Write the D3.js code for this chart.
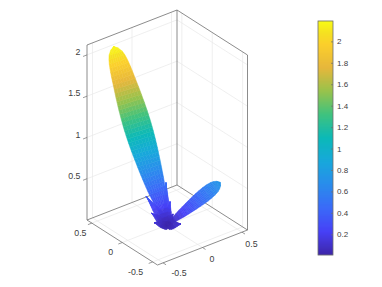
<!DOCTYPE html>
<html>
<head>
<meta charset="utf-8">
<script src="https://cdn.jsdelivr.net/npm/d3@7"></script>
<style>
  html, body { margin: 0; padding: 0; background: #fff; }
  text { font-family: "Liberation Sans", Arial, sans-serif; fill: #404040; }
</style>
</head>
<body>
<svg id="chart" width="382" height="287"></svg>
<script>
// Tick labels
const xTicks = [-0.5, 0, 0.5];
const yTicks = [0.5, 0, -0.5];
const zTicks = [0.5, 1, 1.5, 2];
const colorTicks = [0.2, 0.4, 0.6, 0.8, 1, 1.2, 1.4, 1.6, 1.8, 2];

// Parula colormap stops
const parulaStops = [0, 0.1, 0.2, 0.3, 0.4, 0.5, 0.6, 0.7, 0.8, 0.9, 0.95, 1];
const parulaColors = ['#3e26a8', '#4741f6', '#3b6af8', '#2a8cec', '#18a8db', '#0cb9b8',
  '#3fc27f', '#98c24c', '#e6b73c', '#fbcf2c', '#f5e121', '#f9fb15'];

// Main lobe: radius along the beam and half width
const mainTip = [-0.37, 0.40, 2.11];
const mainR = [0, 0.05, 0.1, 0.15, 0.2, 0.25, 0.3, 0.35, 0.4, 0.45, 0.5, 0.55, 0.6, 0.65, 0.7, 0.75,
  0.8, 0.85, 0.9, 0.95, 1, 1.05, 1.1, 1.15, 1.2, 1.25, 1.3, 1.35, 1.4, 1.45, 1.5, 1.55,
  1.6, 1.65, 1.7, 1.75, 1.8, 1.85, 1.9, 1.95, 2, 2.05, 2.1, 2.15, 2.18];
const mainWidth = [0, 0.015, 0.03, 0.047, 0.058, 0.068, 0.078, 0.088, 0.097, 0.105, 0.111, 0.117, 0.122, 0.127, 0.132, 0.136,
  0.14, 0.144, 0.148, 0.151, 0.154, 0.156, 0.158, 0.159, 0.16, 0.16, 0.159, 0.158, 0.156, 0.154, 0.151, 0.148,
  0.145, 0.141, 0.137, 0.133, 0.129, 0.125, 0.12, 0.114, 0.107, 0.096, 0.08, 0.045, 0];

// Second lobe
const sideTip = [0.431, -0.309, 0.5];
const sideR = [0, 0.05, 0.1, 0.15, 0.2, 0.25, 0.3, 0.35, 0.4, 0.45, 0.5, 0.55, 0.6, 0.65, 0.68, 0.71, 0.729];
const sideWidth = [0, 0.015, 0.03, 0.04, 0.05, 0.056, 0.062, 0.068, 0.073, 0.077, 0.08, 0.08, 0.077, 0.068, 0.056, 0.035, 0];

// Small spikes around the origin
const spikeX = [-0.115, -0.1, -0.096, 0.003, 0.024, 0.049, 0.12, -0.067, 0.03];
const spikeY = [0.2, 0.126, 0.093, 0.025, -0.014, -0.031, -0.07, 0.028, -0.076];
const spikeZ = [0.3, 0.12, 0.02, 0.5, 0.28, 0.13, 0, 0, 0];
const spikeWidth = [0.05, 0.055, 0.05, 0.035, 0.04, 0.05, 0.055, 0.05, 0.04];
const spikeShape = [0.5, 1, 1, 0.9, 0.7, 0.45, 0.2, 0];

const xLim = [-0.57, 0.57];
const yLim = [-0.58, 0.58];
const zLim = [0, 2.12];
const colorLim = [0.007, 2.19];

const svg = d3.select('#chart');

// axes box corners on screen
const front = [157.5, 265];
const right = [247.5, 230];
const left = [87, 220];
const boxHeight = 175;

const xScale = d3.scaleLinear().domain(xLim).range([0, right[0] - front[0]]);
const xScaleV = d3.scaleLinear().domain(xLim).range([0, right[1] - front[1]]);
const yScale = d3.scaleLinear().domain(yLim).range([0, left[0] - front[0]]);
const yScaleV = d3.scaleLinear().domain(yLim).range([0, left[1] - front[1]]);
const zScale = d3.scaleLinear().domain(zLim).range([0, -boxHeight]);

function project(x, y, z) {
  return [
    front[0] + xScale(x) + yScale(y),
    front[1] + xScaleV(x) + yScaleV(y) + zScale(z)
  ];
}

const parula = d3.scaleLinear().domain(parulaStops).range(parulaColors).clamp(true);
const colorNorm = d3.scaleLinear().domain(colorLim).range([0, 1]).clamp(true);
const colorOf = v => parula(colorNorm(v));

const line3d = (g, a, b, color, width) => {
  const p = project(...a), q = project(...b);
  g.append('line')
    .attr('x1', p[0]).attr('y1', p[1])
    .attr('x2', q[0]).attr('y2', q[1])
    .attr('stroke', color)
    .attr('stroke-width', width);
};

function drawGrid() {
  const g = svg.append('g').attr('class', 'grid');
  const c = '#e8e8e8';
  xTicks.forEach(x => {
    line3d(g, [x, yLim[0], 0], [x, yLim[1], 0], c, 0.7);
    line3d(g, [x, yLim[1], 0], [x, yLim[1], zLim[1]], c, 0.7);
  });
  yTicks.forEach(y => {
    line3d(g, [xLim[0], y, 0], [xLim[1], y, 0], c, 0.7);
    line3d(g, [xLim[1], y, 0], [xLim[1], y, zLim[1]], c, 0.7);
  });
  zTicks.forEach(z => {
    line3d(g, [xLim[0], yLim[1], z], [xLim[1], yLim[1], z], c, 0.7);
    line3d(g, [xLim[1], yLim[1], z], [xLim[1], yLim[0], z], c, 0.7);
  });
}

function drawBox() {
  const g = svg.append('g').attr('class', 'box');
  const c = '#6e6e6e';
  const [x0, x1] = xLim, [y0, y1] = yLim, [z0, z1] = zLim;
  line3d(g, [x0, y1, z0], [x1, y1, z0], c, 0.8);
  line3d(g, [x1, y1, z0], [x1, y0, z0], c, 0.8);
  line3d(g, [x0, y1, z0], [x0, y0, z0], c, 0.8);
  line3d(g, [x0, y0, z0], [x1, y0, z0], c, 0.8);
  line3d(g, [x0, y1, z1], [x1, y1, z1], c, 0.8);
  line3d(g, [x1, y1, z1], [x1, y0, z1], c, 0.8);
  line3d(g, [x0, y1, z0], [x0, y1, z1], c, 0.8);
  line3d(g, [x1, y1, z0], [x1, y1, z1], c, 0.8);
  line3d(g, [x1, y0, z0], [x1, y0, z1], c, 0.8);

  const tickFrac = 0.05;
  xTicks.forEach(x => {
    line3d(g, [x, y0, z0], [x, y0 - tickFrac, z0], c, 0.7);
    const p = project(x, y0, z0);
    svg.append('text')
      .attr('x', p[0] + 9.5 + (x < 0 ? 6.5 : 0))
      .attr('y', p[1] + (x < 0 ? 10 : 11.5))
      .attr('dy', '0.35em')
      .attr('text-anchor', 'middle')
      .attr('font-size', 8.8)
      .text(x);
  });
  yTicks.forEach(y => {
    line3d(g, [x0, y, z0], [x0 - tickFrac, y, z0], c, 0.7);
    const p = project(x0, y, z0);
    svg.append('text')
      .attr('x', p[0] - 11.5 - (y < 0 ? 5.5 : 0))
      .attr('y', p[1] + 9.8)
      .attr('dy', '0.35em')
      .attr('text-anchor', 'middle')
      .attr('font-size', 8.8)
      .text(y);
  });
  zTicks.forEach(z => {
    line3d(g, [x0, y1, z], [x0 - tickFrac, y1, z], c, 0.7);
    const p = project(x0, y1, z);
    svg.append('text')
      .attr('x', p[0] - 6.5)
      .attr('y', p[1] - 3)
      .attr('dy', '0.35em')
      .attr('text-anchor', 'end')
      .attr('font-size', 8.8)
      .text(z);
  });
}

// one lobe is a mesh of rows along the beam, coloured by distance from origin
function drawLobe(g, tip, rows, widths) {
  const tipR = Math.hypot(...tip);
  const dir = tip.map(d => d / tipR);
  const o = project(0, 0, 0);
  const t = project(...tip);
  const len = Math.hypot(t[0] - o[0], t[1] - o[1]);
  const nx = -(t[1] - o[1]) / len;
  const ny = (t[0] - o[0]) / len;
  const widthPx = d3.scaleLinear().domain([0, 1]).range([0, 86.6]);
  const steps = d3.range(-4, 4).map(i => i / 4);
  const corner = (i, s) => {
    const c = project(dir[0] * rows[i], dir[1] * rows[i], dir[2] * rows[i]);
    const w = widthPx(widths[i]) * s;
    return [c[0] + nx * w, c[1] + ny * w];
  };
  d3.range(rows.length - 1).forEach(i => {
    steps.forEach(s => {
      const s2 = s + 0.25;
      const r = (rows[i] + rows[i + 1]) / 2;
      const lat = (widths[i] + widths[i + 1]) / 2 * Math.abs(s + 0.125);
      const col = colorOf(Math.hypot(r, lat));
      g.append('polygon')
        .attr('points', [corner(i, s), corner(i, s2), corner(i + 1, s2), corner(i + 1, s)].join(' '))
        .attr('fill', col)
        .attr('stroke', col)
        .attr('stroke-width', 0.5);
    });
  });
}

function drawSurface() {
  const g = svg.append('g').attr('class', 'surface');
  spikeX.forEach((x, k) => {
    const tip = [x, spikeY[k], spikeZ[k]];
    const r = Math.hypot(...tip);
    const rows = spikeShape.map((_, i) => r * i / (spikeShape.length - 1));
    const widths = spikeShape.map(f => f * spikeWidth[k]);
    drawLobe(g, tip, rows, widths);
  });
  drawLobe(g, sideTip, sideR, sideWidth);
  drawLobe(g, mainTip, mainR, mainWidth);
}

function drawColorbar() {
  const g = svg.append('g').attr('class', 'colorbar');
  const x0 = 318, x1 = 333;
  const y = d3.scaleLinear().domain(colorLim).range([255, 21]);
  const n = 234;
  d3.range(n).forEach(i => {
    const v = colorLim[0] + (colorLim[1] - colorLim[0]) * (i + 0.5) / n;
    g.append('rect')
      .attr('x', x0)
      .attr('y', y(v) - 0.6)
      .attr('width', x1 - x0)
      .attr('height', 1.2)
      .attr('fill', colorOf(v));
  });
  g.append('rect')
    .attr('x', x0).attr('y', 21)
    .attr('width', x1 - x0).attr('height', 234)
    .attr('fill', 'none')
    .attr('stroke', '#6e6e6e')
    .attr('stroke-width', 0.8);
  const axis = d3.axisRight(y).tickValues(colorTicks).tickSize(-2).tickPadding(6).tickFormat(d => d);
  const a = svg.append('g').attr('transform', `translate(${x1},0)`).call(axis);
  a.select('.domain').remove();
  a.selectAll('line').attr('stroke', '#6e6e6e').attr('stroke-width', 0.7);
  a.selectAll('text').attr('font-size', 8).attr('font-family', null).attr('x', 4);
}

drawGrid();
drawBox();
drawSurface();
drawColorbar();
</script>
</body>
</html>
